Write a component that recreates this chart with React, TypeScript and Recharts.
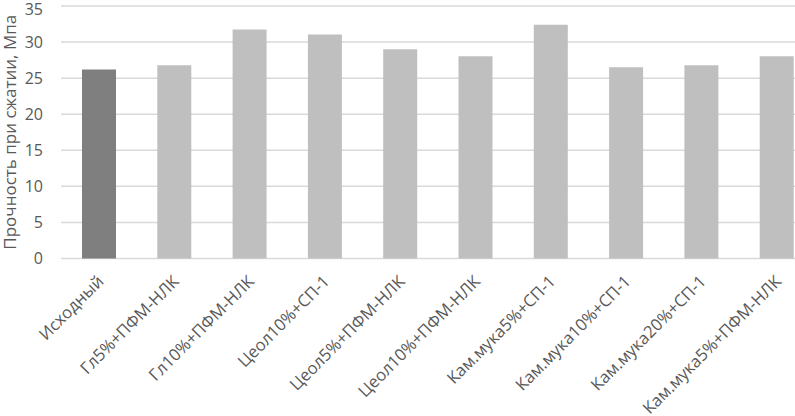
import React from 'react';
import { BarChart, Bar, XAxis, YAxis, CartesianGrid, Cell } from 'recharts';

const categories = [
  'Исходный',
  'Гл5%+ПФМ-НЛК',
  'Гл10%+ПФМ-НЛК',
  'Цеол10%+СП-1',
  'Цеол5%+ПФМ-НЛК',
  'Цеол10%+ПФМ-НЛК',
  'Кам.мука5%+СП-1',
  'Кам.мука10%+СП-1',
  'Кам.мука20%+СП-1',
  'Кам.мука5%+ПФМ-НЛК',
];
const strengthValues = [26.2, 26.8, 31.75, 31.05, 29.0, 28.05, 32.4, 26.5, 26.8, 28.05];
const yTicks = [0, 5, 10, 15, 20, 25, 30, 35];
const yTitle = 'Прочность при сжатии, Мпа';

const data = categories.map((name, i) => ({ name, value: strengthValues[i] }));

const FONT = '"Open Sans", sans-serif';
const TEXT = '#595959';

const XTick = (props: any) => {
  const { x, y, payload } = props;
  return (
    <text
      x={x + 6}
      y={y + 16}
      transform={`rotate(-45, ${x + 6}, ${y + 16})`}
      textAnchor="end"
      fill={TEXT}
      fontFamily={FONT}
      fontSize={16.7}
    >
      {payload.value}
    </text>
  );
};

export default function App() {
  return (
    <div style={{ position: 'fixed', left: 0, top: 0, width: 795, height: 416, overflow: 'hidden', background: '#fff' }}>
      <BarChart
        width={814}
        height={416}
        data={data}
        margin={{ top: 6, right: 0, bottom: 0, left: 0 }}
      >
        <CartesianGrid vertical={false} stroke="#d9d9d9" strokeWidth={1.5} />
        <XAxis
          dataKey="name"
          interval={0}
          height={157.5}
          axisLine={false}
          tickLine={false}
          tick={<XTick />}
        />
        <YAxis
          width={61}
          domain={[0, 35]}
          ticks={yTicks}
          axisLine={false}
          tickLine={false}
          tickMargin={12}
          tick={{ fill: TEXT, fontFamily: FONT, fontSize: 16 }}
          label={{
            value: yTitle,
            angle: -90,
            position: 'center',
            dx: -21,
            fill: TEXT,
            fontFamily: FONT,
            fontSize: 17,
          }}
        />
        <Bar dataKey="value" barSize={34} isAnimationActive={false}>
          {data.map((d, i) => (
            <Cell key={d.name} fill={i === 0 ? '#7f7f7f' : '#bfbfbf'} />
          ))}
        </Bar>
      </BarChart>
    </div>
  );
}
